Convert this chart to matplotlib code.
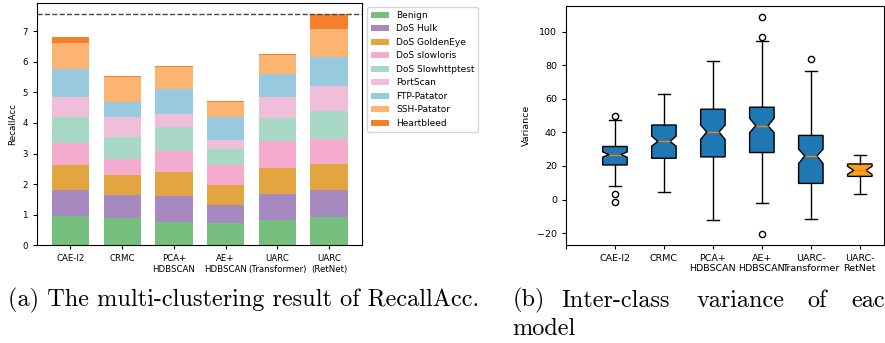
import matplotlib
matplotlib.use("Agg")
import matplotlib.pyplot as plt
import numpy as np

# ---- (a) stacked RecallAcc per class ----
models = ["CAE-l2", "CRMC", "PCA+\nHDBSCAN", "AE+\nHDBSCAN", "UARC\n(Transformer)", "UARC\n(RetNet)"]
classes = ["Benign", "DoS Hulk", "DoS GoldenEye", "DoS slowloris", "DoS Slowhttptest",
           "PortScan", "FTP-Patator", "SSH-Patator", "Heartbleed"]
benign = [0.96, 0.89, 0.77, 0.74, 0.84, 0.93]
dos_hulk = [0.85, 0.75, 0.84, 0.59, 0.85, 0.88]
dos_goldeneye = [0.82, 0.65, 0.78, 0.64, 0.85, 0.86]
dos_slowloris = [0.72, 0.52, 0.69, 0.64, 0.87, 0.81]
dos_slowhttptest = [0.83, 0.72, 0.78, 0.53, 0.76, 0.91]
portscan = [0.68, 0.65, 0.42, 0.31, 0.68, 0.82]
ftp_patator = [0.89, 0.50, 0.82, 0.74, 0.76, 0.95]
ssh_patator = [0.87, 0.81, 0.73, 0.51, 0.62, 0.91]
heartbleed = [0.20, 0.03, 0.02, 0.02, 0.03, 0.48]
class_colors = ["#77bf7f", "#a689bf", "#e2a53f", "#f4abcd", "#a8d9c6",
                "#efbfda", "#98c9df", "#fbb471", "#f57f2a"]

# ---- (b) inter-class variance boxes ----
box_labels = ["CAE-l2", "CRMC", "PCA+\nHDBSCAN", "AE+\nHDBSCAN", "UARC-\nTransformer", "UARC-\nRetNet"]
box_med = [26.8, 34.6, 40.2, 44.0, 26.0, 17.4]
box_q1 = [20.6, 24.6, 25.4, 28.0, 9.6, 13.8]
box_q3 = [31.6, 44.4, 53.8, 55.0, 38.2, 21.2]
box_cilo = [25.2, 31.8, 35.8, 39.8, 21.4, 15.0]
box_cihi = [28.4, 37.8, 44.4, 48.4, 30.0, 19.8]
box_whislo = [7.8, 4.4, -12.0, -2.0, -11.8, 3.4]
box_whishi = [47.6, 62.6, 82.6, 94.2, 76.6, 26.4]
box_fliers = [[50.0, 3.4, -1.4], [], [], [108.8, 96.8, -20.6], [83.6], []]

fig = plt.figure(figsize=(8.85, 3.43), dpi=100)

# left panel
ax1 = fig.add_axes([0.0418, 0.2848, 0.3678, 0.7072])
series = [benign, dos_hulk, dos_goldeneye, dos_slowloris, dos_slowhttptest,
          portscan, ftp_patator, ssh_patator, heartbleed]
x = np.arange(len(models))
bottom = np.zeros(len(models))
for name, vals, col in zip(classes, series, class_colors):
    ax1.bar(x, vals, 0.72, bottom=bottom, color=col, label=name)
    bottom += np.array(vals)
ax1.axhline(bottom.max(), color="#444444", linestyle="--", linewidth=1)
ax1.set_xticks(x)
ax1.set_xticklabels(models)
ax1.set_ylabel("RecallAcc", fontsize=6.3)
ax1.tick_params(length=3, labelsize=6.2)
ax1.legend(loc="upper left", bbox_to_anchor=(1.0, 1.0), fontsize=6.5)

# right panel
ax2 = fig.add_axes([0.6395, 0.2857, 0.3597, 0.6968])
stats = []
for i in range(len(box_labels)):
    stats.append(dict(med=box_med[i], q1=box_q1[i], q3=box_q3[i],
                      cilo=box_cilo[i], cihi=box_cihi[i],
                      whislo=box_whislo[i], whishi=box_whishi[i],
                      fliers=box_fliers[i], label=box_labels[i]))
pos = np.arange(1, len(box_labels) + 1)
bp = ax2.bxp(stats, positions=pos, widths=0.5, shownotches=True, patch_artist=True,
             flierprops=dict(marker="o", markersize=4.5, markerfacecolor="none"),
             medianprops=dict(color="#ff7f0e"))
for b in bp["boxes"]:
    b.set_facecolor("#1f77b4")
bp["boxes"][-1].set_facecolor("#f9a023")
ax2.set_xticks(range(len(box_labels) + 1))
ax2.set_xticklabels([""] + box_labels)
ax2.set_xlim(0, 6.5)
ax2.set_ylabel("Variance", fontsize=6.8)
ax2.tick_params(length=3, labelsize=6.8)

# sub-captions
cap = dict(fontfamily="cmr10", fontsize=17.5, va="baseline")
fig.text(8 / 885, 1 - 306.7 / 343, "(a) The multi-clustering result of RecallAcc.", **cap)
for word, px in [("(b)", 512.7), ("Inter-class", 561.7), ("variance", 696.7),
                 ("of", 807.7), ("eac", 851.7)]:
    fig.text(px / 885, 1 - 306.7 / 343, word, **cap)
fig.text(512.7 / 885, 1 - 335 / 343, "model", **cap)

fig.savefig("out.png", dpi=100)
